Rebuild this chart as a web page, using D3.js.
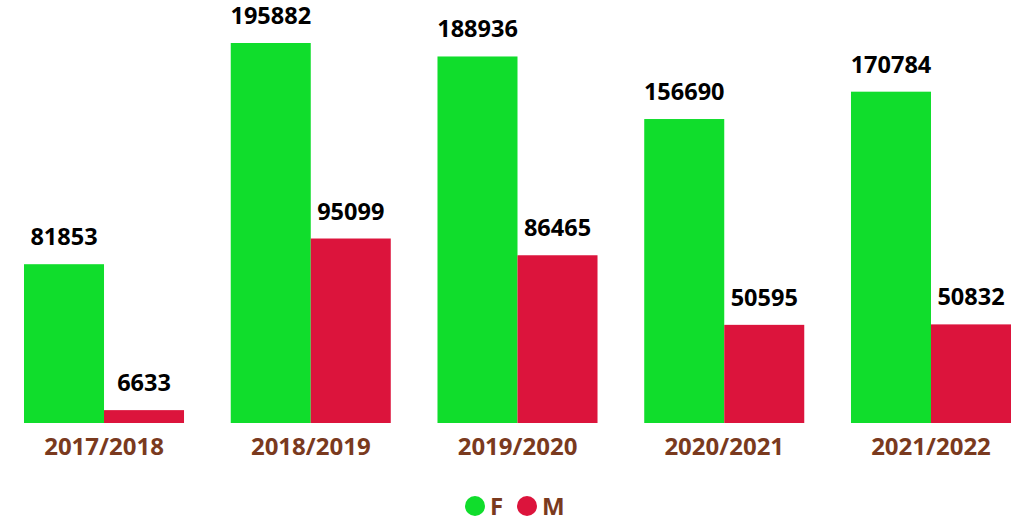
<!DOCTYPE html>
<html>
<head>
<meta charset="UTF-8">
<title>F / M par année</title>
<style>
    body { margin: 0; background: #fff; font-family: "Open Sans", Arial, sans-serif; }
    svg text { font-weight: bold; }
</style>
</head>
<body>
<svg width="1025" height="521"></svg>
<script src="https://d3js.org/d3.v7.min.js"></script>
<script>
    // données
    const years = ["2017/2018", "2018/2019", "2019/2020", "2020/2021", "2021/2022"];
    const seriesNames = ["F", "M"];
    const valuesF = [81853, 195882, 188936, 156690, 170784];
    const valuesM = [6633, 95099, 86465, 50595, 50832];
    const colors = ["#10dd2c", "#dc143c"];

    const width = 1025, height = 521;
    const baseY = 423;

    const svg = d3.select("svg")
        .attr("width", width)
        .attr("height", height);

    const x = d3.scaleBand()
        .domain(years)
        .range([24, 1011])
        .paddingInner(0.226)
        .paddingOuter(0);

    const xs = d3.scaleBand()
        .domain(seriesNames)
        .range([0, x.bandwidth()]);

    const y = d3.scaleLinear()
        .domain([0, d3.max(valuesF)])
        .range([baseY, 43]);

    const color = d3.scaleOrdinal().domain(seriesNames).range(colors);

    const rows = years.map((yr, i) => ({
        year: yr,
        items: [{ s: "F", v: valuesF[i] }, { s: "M", v: valuesM[i] }]
    }));

    const group = svg.append("g").selectAll("g")
        .data(rows)
        .enter().append("g")
        .attr("transform", d => `translate(${x(d.year)},0)`);

    group.selectAll("rect")
        .data(d => d.items)
        .enter().append("rect")
        .attr("x", d => xs(d.s))
        .attr("width", xs.bandwidth())
        .attr("y", d => y(d.v))
        .attr("height", d => baseY - y(d.v))
        .attr("fill", d => color(d.s));

    group.selectAll("text")
        .data(d => d.items)
        .enter().append("text")
        .attr("x", d => xs(d.s) + xs.bandwidth() / 2)
        .attr("y", d => y(d.v) - 19)
        .attr("text-anchor", "middle")
        .attr("font-size", 23.5)
        .attr("fill", "#000")
        .text(d => d.v);

    // axe x sans ligne
    const xAxis = svg.append("g")
        .attr("transform", `translate(0,${baseY})`)
        .call(d3.axisBottom(x).tickSize(0).tickPadding(32));
    xAxis.select(".domain").remove();
    xAxis.selectAll("text")
        .attr("dy", 0)
        .attr("font-size", 24)
        .attr("font-family", "Open Sans, Arial, sans-serif")
        .attr("font-weight", "bold")
        .attr("fill", "#7a3a1e");

    // légende
    const legendPos = [475, 527];
    const legend = svg.append("g").selectAll("g")
        .data(seriesNames)
        .enter().append("g")
        .attr("transform", (d, i) => `translate(${legendPos[i]},506)`);
    legend.append("circle")
        .attr("r", 10)
        .attr("fill", d => color(d));
    legend.append("text")
        .attr("x", 15)
        .attr("y", 9)
        .attr("font-size", 24)
        .attr("fill", "#7a3a1e")
        .text(d => d);
</script>
</body>
</html>
